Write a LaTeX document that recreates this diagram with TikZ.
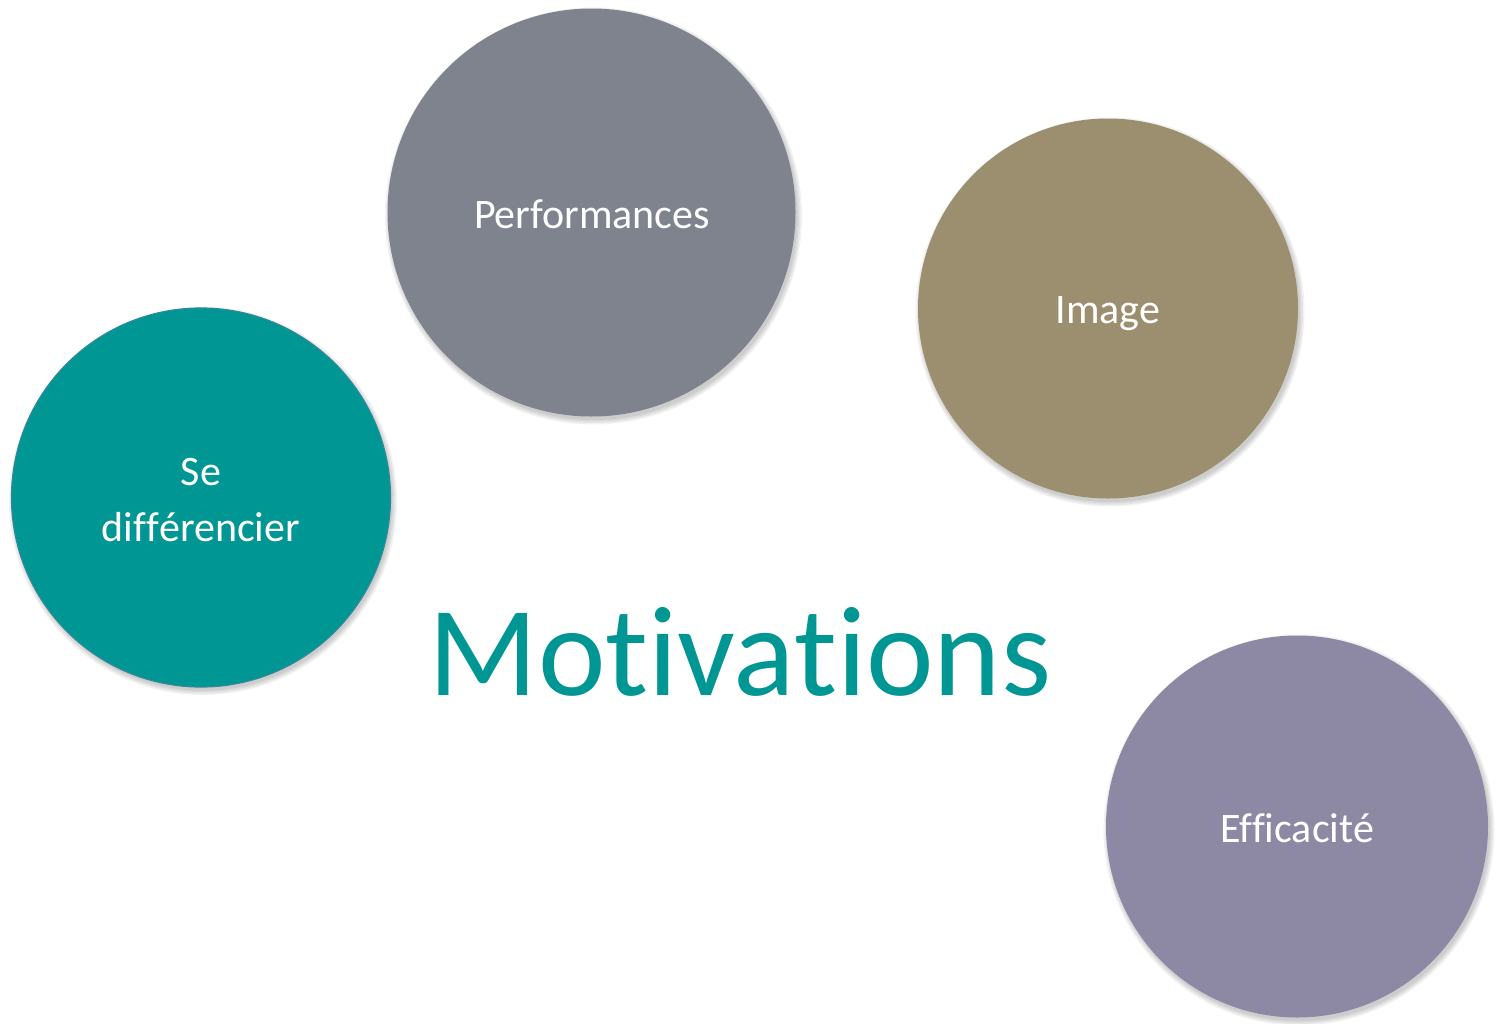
\documentclass[tikz,border=0pt]{standalone}
\usepackage{fontspec}
\setmainfont{Carlito}[Ligatures=NoCommon]
\definecolor{tealc}{HTML}{009694}
\definecolor{grayc}{HTML}{7E838D}
\definecolor{olivec}{HTML}{9C8F6F}
\definecolor{purplec}{HTML}{8D88A4}
\definecolor{tealedge}{HTML}{2E8A9A}
\tikzset{
  bubble/.style={circle, inner sep=0pt},
  btext/.style={anchor=base, inner sep=0pt, align=center, text=white,
    font=\fontsize{42}{56}\selectfont},
  bshadow/.style={fill=black, fill opacity=0.05, draw=none}
}
\begin{document}
\begin{tikzpicture}[x=1pt,y=-1pt]
\useasboundingbox (0,0) rectangle (1497,1023);
\fill[white] (0,0) rectangle (1497,1023);
% soft shadows
\foreach \cx/\cy/\r in {591.5/212.5/204, 1108/308.5/190, 201/497.5/189.5, 1297/826.5/191}{
  \foreach \d in {0,1.5,3,4.5}{
    \fill[bshadow] (\cx+2,\cy+3.5) circle[radius=\r+\d];
  }
}
\node[bubble, fill=grayc, minimum size=408pt] (perf) at (591.5,212.5) {};
\node[bubble, fill=olivec, minimum size=380pt] (img) at (1108,308.5) {};
\node[bubble, fill=tealc, draw=tealedge, line width=1.2pt, minimum size=379pt] (diff) at (201,497.5) {};
\node[bubble, fill=purplec, minimum size=382pt] (eff) at (1297,826.5) {};
\node[btext] (perf-t) at (592,228) {Performances};
\node[btext] (img-t) at (1108,323) {Image};
\node[btext] (diff-t) at (201,541) {Se\\dif\kern0ptf\kern0ptérencier};
\node[btext] (eff-t) at (1297,842) {Ef\kern0ptf\kern0pticacité};
\node[anchor=base, text=tealc, font=\fontsize{128}{130}\selectfont, inner sep=0pt] (mot) at (740,695) {Motivations};
\end{tikzpicture}
\end{document}
